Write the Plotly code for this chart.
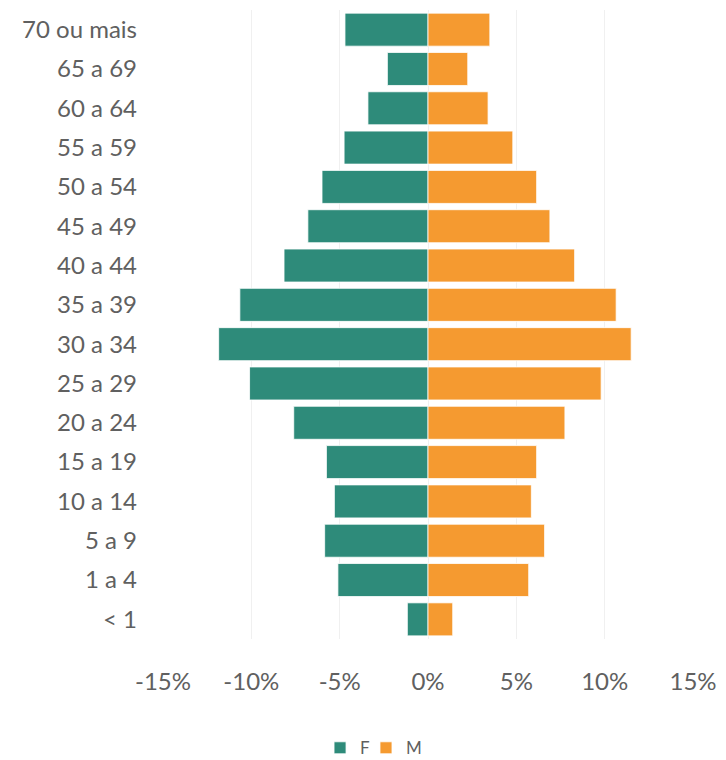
import plotly.graph_objects as go

categories = ["< 1", "1 a 4", "5 a 9", "10 a 14", "15 a 19", "20 a 24", "25 a 29",
              "30 a 34", "35 a 39", "40 a 44", "45 a 49", "50 a 54", "55 a 59",
              "60 a 64", "65 a 69", "70 ou mais"]
female = [1.17, 5.1, 5.85, 5.3, 5.75, 7.6, 10.1, 11.85, 10.65, 8.15, 6.8, 6.0, 4.75, 3.4, 2.3, 4.7]
male = [1.4, 5.7, 6.6, 5.85, 6.15, 7.75, 9.8, 11.5, 10.65, 8.3, 6.9, 6.15, 4.8, 3.4, 2.25, 3.5]
tick_vals = [-15, -10, -5, 0, 5, 10, 15]
tick_text = ["-15%", "-10%", "-5%", "0%", "5%", "10%", "15%"]

fig = go.Figure()
fig.add_trace(go.Bar(y=categories, x=[-v for v in female], name="F", orientation="h",
                     legend="legend",
                     marker=dict(color="#2e8b7a", line=dict(color="white", width=0.8))))
fig.add_trace(go.Bar(y=categories, x=male, name="M", orientation="h",
                     legend="legend2",
                     marker=dict(color="#f59a30", line=dict(color="white", width=0.8))))

leg_common = dict(orientation="h", xref="container", yref="container",
                  xanchor="left", y=0.026, yanchor="middle",
                  font=dict(size=17, color="#606060"), itemwidth=30,
                  bgcolor="rgba(0,0,0,0)")

fig.update_layout(
    barmode="relative",
    bargap=0.16,
    width=726, height=760,
    margin=dict(l=155, r=41, t=2, b=129, autoexpand=False),
    plot_bgcolor="white", paper_bgcolor="white",
    font=dict(family="Lato, Open Sans, sans-serif", size=24, color="#606060"),
    showlegend=True,
    legend=dict(x=0.4298, **leg_common),
    legend2=dict(x=0.4931, **leg_common),
    xaxis=dict(range=[-15, 15], tickvals=tick_vals, ticktext=tick_text,
               showgrid=True, gridcolor="#f0f0f0", gridwidth=1,
               zeroline=False, showline=False, ticks="", ticklabelstandoff=26,
               automargin=False),
    yaxis=dict(categoryorder="array", categoryarray=categories, showgrid=False,
               zeroline=False, showline=False, ticks="", ticklabelstandoff=25,
               automargin=False),
)

fig.write_html("out.html")
